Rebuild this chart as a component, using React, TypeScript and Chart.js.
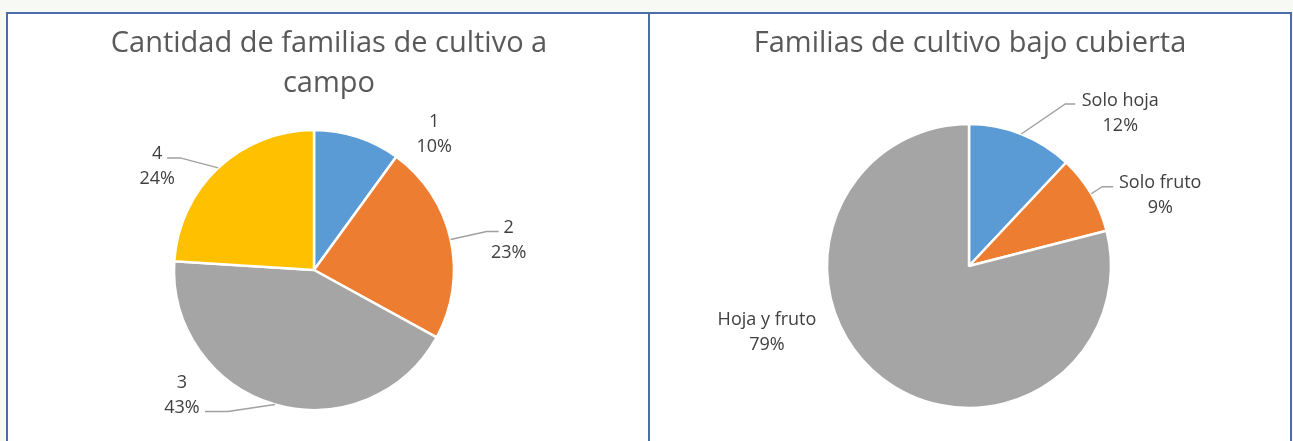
import React, { useEffect, useRef } from "react";
import { Chart, registerables } from "chart.js";

Chart.register(...registerables);

// ---- data ----
const campoCategories = ["1", "2", "3", "4"];
const campoValues = [10, 23, 43, 24];
const campoTitle = ["Cantidad de familias de cultivo a", "campo"];

const cubiertaCategories = ["Solo hoja", "Solo fruto", "Hoja y fruto"];
const cubiertaValues = [12, 9, 79];
const cubiertaTitle = ["Familias de cultivo bajo cubierta"];

const sliceColors = ["#5B9BD5", "#ED7D31", "#A5A5A5", "#FFC000"];

// label placement relative to the slice's outer edge point (style, not data)
const campoLabelLayout = [
  { dx: 77, dy: -3.5 },
  { dx: 58, dy: 0, leader: [[36, -8], [48, -8]] },
  { dx: -93, dy: -10.5, leader: [[-47, 7], [-70, 7]] },
  { dx: -61, dy: -3, leader: [[-38, -10], [-51, -10]] },
];
const cubiertaLabelLayout = [
  { dx: 99, dy: -21.5, leader: [[44, -30], [54, -30]] },
  { dx: 69, dy: 0.5, leader: [[11, -7], [22, -7]] },
  { dx: -115, dy: -47 },
];

const FONT = "'Open Sans', sans-serif";

const pieLabelsPlugin = {
  id: "pieLabels",
  afterDatasetsDraw(chart: any, _args: any, opts: any) {
    const ctx = chart.ctx;
    const meta = chart.getDatasetMeta(0);
    const values: number[] = chart.data.datasets[0].data;
    const labels: string[] = chart.data.labels;
    const total = values.reduce((a, b) => a + b, 0);
    ctx.save();
    meta.data.forEach((arc: any, i: number) => {
      const p = arc.getProps(["x", "y", "startAngle", "endAngle", "outerRadius"], true);
      const mid = (p.startAngle + p.endAngle) / 2;
      const ex = p.x + Math.cos(mid) * p.outerRadius;
      const ey = p.y + Math.sin(mid) * p.outerRadius;
      const L = opts.layout[i];
      if (L.leader) {
        ctx.beginPath();
        ctx.moveTo(ex, ey);
        L.leader.forEach(([a, b]: number[]) => ctx.lineTo(ex + a, ey + b));
        ctx.strokeStyle = "#A0A0A0";
        ctx.lineWidth = 1.4;
        ctx.stroke();
      }
      const tx = ex + L.dx;
      const ty = ey + L.dy;
      const pct = Math.round((values[i] / total) * 100) + "%";
      ctx.fillStyle = "#404040";
      ctx.font = `18px ${FONT}`;
      ctx.textAlign = "center";
      ctx.textBaseline = "alphabetic";
      ctx.fillText(labels[i], tx, ty - 12.5 + 6.5);
      ctx.fillText(pct, tx, ty + 12.5 + 6.5);
    });
    ctx.restore();
  },
};

const titlePlugin = {
  id: "panelTitle",
  afterDraw(chart: any, _args: any, opts: any) {
    const ctx = chart.ctx;
    ctx.save();
    ctx.fillStyle = "#595959";
    ctx.font = `29px ${FONT}`;
    ctx.textAlign = "center";
    ctx.textBaseline = "alphabetic";
    opts.lines.forEach((t: string, i: number) => {
      ctx.fillText(t, opts.x, opts.y + i * opts.lineHeight);
    });
    ctx.restore();
  },
};

function PieChart(props: {
  labels: string[];
  values: number[];
  title: string[];
  layout: any[];
  radius: number;
  padding: any;
  titleX: number;
}) {
  const ref = useRef<HTMLCanvasElement | null>(null);
  useEffect(() => {
    if (!ref.current) return;
    const chart = new Chart(ref.current, {
      type: "pie",
      data: {
        labels: props.labels,
        datasets: [
          {
            data: props.values,
            backgroundColor: sliceColors.slice(0, props.values.length),
            borderColor: "#FFFFFF",
            borderWidth: 2.5,
          },
        ],
      },
      options: {
        responsive: false,
        animation: false,
        radius: props.radius,
        layout: { padding: props.padding },
        plugins: {
          legend: { display: false },
          tooltip: { enabled: false },
          title: { display: false },
          pieLabels: { layout: props.layout },
          panelTitle: { lines: props.title, x: props.titleX, y: 38, lineHeight: 40 },
        } as any,
      } as any,
      plugins: [pieLabelsPlugin, titlePlugin],
    });
    return () => chart.destroy();
  }, []);
  return <canvas ref={ref} width={640} height={427} style={{ display: "block" }} />;
}

export default function App() {
  return (
    <div
      style={{
        position: "fixed",
        left: 0,
        top: 0,
        width: 1293,
        height: 441,
        background: "#F7F9F5",
        overflow: "hidden",
      }}
    >
      <div
        style={{
          position: "absolute",
          left: 6,
          top: 12,
          width: 1282,
          height: 460,
          background: "#FFFFFF",
          border: "2px solid #4A6EA8",
        }}
      />
      <div
        style={{
          position: "absolute",
          left: 648,
          top: 12,
          width: 2,
          height: 460,
          background: "#4A6EA8",
        }}
      />
      <div style={{ position: "absolute", left: 8, top: 14 }}>
        <PieChart
          labels={campoCategories}
          values={campoValues}
          title={campoTitle}
          layout={campoLabelLayout}
          radius={140}
          padding={{ left: 0, right: 28, top: 85, bottom: 0 }}
          titleX={321}
        />
      </div>
      <div style={{ position: "absolute", left: 650, top: 14 }}>
        <PieChart
          labels={cubiertaCategories}
          values={cubiertaValues}
          title={cubiertaTitle}
          layout={cubiertaLabelLayout}
          radius={142}
          padding={{ left: 0, right: 2, top: 77, bottom: 0 }}
          titleX={320}
        />
      </div>
    </div>
  );
}
